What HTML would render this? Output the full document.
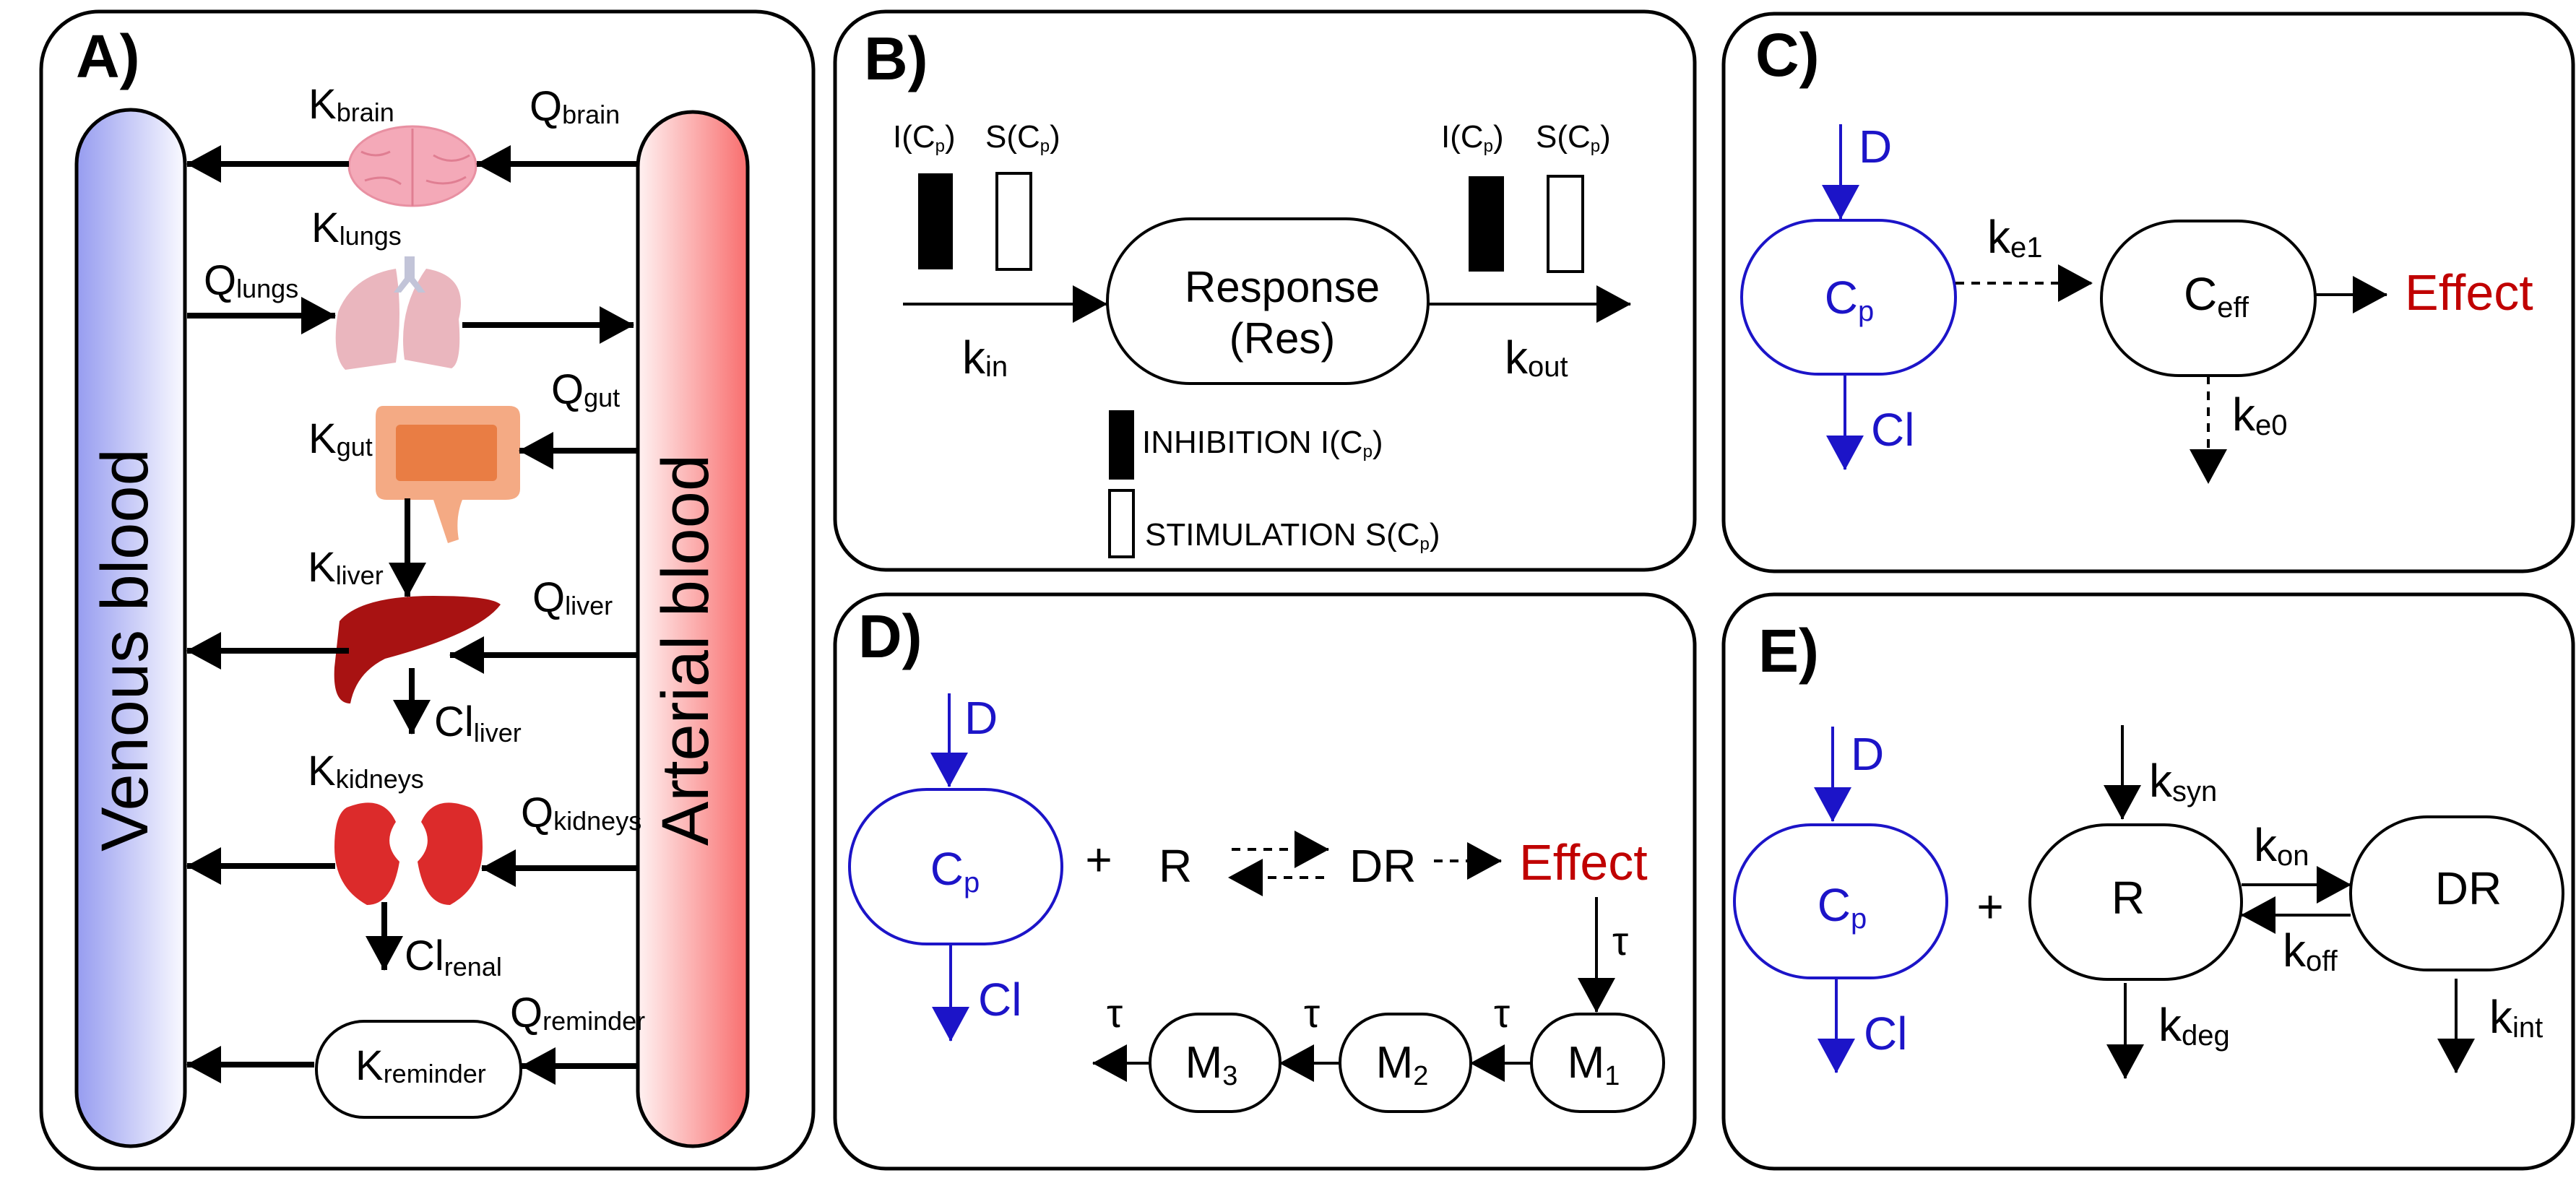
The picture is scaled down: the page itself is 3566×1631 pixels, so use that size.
<!DOCTYPE html>
<html><head><meta charset="utf-8"><style>html,body{margin:0;padding:0;background:#fff}svg{display:block}text{font-family:"Liberation Sans",Arial,sans-serif}</style></head>
<body>
<svg width="3566" height="1631" viewBox="0 0 3566 1631" xmlns="http://www.w3.org/2000/svg">
<defs>
<marker id="ah" viewBox="0 0 48 52" markerWidth="48" markerHeight="52" refX="47" refY="26" orient="auto" markerUnits="userSpaceOnUse"><path d="M0,0L48,26L0,52z" fill="#000"/></marker>
<marker id="ahb" viewBox="0 0 48 52" markerWidth="48" markerHeight="52" refX="47" refY="26" orient="auto" markerUnits="userSpaceOnUse"><path d="M0,0L48,26L0,52z" fill="#1c14c8"/></marker>
<linearGradient id="gv" x1="0" x2="1"><stop offset="0" stop-color="#969cf0"/><stop offset="1" stop-color="#fafaff"/></linearGradient>
<linearGradient id="ga" x1="0" x2="1"><stop offset="0" stop-color="#fff2f2"/><stop offset="1" stop-color="#f86e6e"/></linearGradient>
</defs>
<g fill="none" stroke="#000" stroke-width="5">
<rect x="57" y="16" width="1069" height="1602" rx="80"/>
<rect x="1156" y="16" width="1190" height="773" rx="70"/>
<rect x="1156" y="823" width="1190" height="795" rx="70"/>
<rect x="2386" y="19" width="1176" height="772" rx="70"/>
<rect x="2386" y="823" width="1176" height="795" rx="70"/>
</g>
<!-- Panel A -->
<text x="105" y="107" font-size="84" font-weight="bold">A)</text>
<rect x="106" y="152" width="150" height="1435" rx="75" fill="url(#gv)" stroke="#000" stroke-width="5"/>
<rect x="883" y="155" width="152" height="1432" rx="76" fill="url(#ga)" stroke="#000" stroke-width="5"/>
<text transform="translate(204,900) rotate(-90)" font-size="92" text-anchor="middle">Venous blood</text>
<text transform="translate(980,900) rotate(-90)" font-size="92" text-anchor="middle">Arterial blood</text>
<!-- organs -->
<ellipse cx="571" cy="230" rx="88" ry="55" fill="#f4a9b8" stroke="#e890a2" stroke-width="3"/>
<path d="M571 178V285M500 210q20 10 40 0M600 215q25 15 50 0M505 250q30-10 50 5M590 250q30 10 55-5" stroke="#e07e92" stroke-width="3" fill="none"/>
<path d="M548 372q-60 10-80 60q-10 60 10 80l70-10q10-70 0-130z" fill="#eab6be"/>
<path d="M590 372q60 10 45 70q5 60-10 68l-65-12q-10-70 30-126z" fill="#eab6be"/>
<path d="M560 355h14v30l15 20h-10l-12-15-12 15h-10l15-20z" fill="#c2c4d8"/>
<path d="M530 562q-10 0-10 15v100q0 15 15 15h65q10 30 20 60l15-5q-5-30 5-55h60q20 0 20-15v-100q0-15-15-15z" fill="#f4aa84"/>
<rect x="548" y="588" width="140" height="78" rx="6" fill="#e97d44"/>
<path d="M470 860q30-35 130-35q80 0 93 12q-30 40-160 75q-40 20-48 62q-25 0-22-50z" fill="#a81212"/>
<path d="M480 1118q50-20 68 20q-20 30 5 55q-10 60-45 60q-45-25-45-80q0-45 17-55z" fill="#dc2b2b"/>
<path d="M651 1118q-50-20-68 20q20 30-5 55q10 60 45 60q45-25 45-80q0-45-17-55z" fill="#dc2b2b"/>
<rect x="438" y="1414" width="283" height="133" rx="66" fill="#fff" stroke="#000" stroke-width="4"/>
<g stroke="#000" stroke-width="8" marker-end="url(#ah)">
<line x1="483" y1="227" x2="259" y2="227"/>
<line x1="883" y1="227" x2="660" y2="227"/>
<line x1="259" y1="437" x2="464" y2="437"/>
<line x1="640" y1="450" x2="877" y2="450"/>
<line x1="883" y1="624" x2="719" y2="624"/>
<line x1="564" y1="690" x2="564" y2="826"/>
<line x1="483" y1="901" x2="259" y2="901"/>
<line x1="883" y1="907" x2="623" y2="907"/>
<line x1="570" y1="925" x2="570" y2="1016"/>
<line x1="464" y1="1199" x2="259" y2="1199"/>
<line x1="883" y1="1202" x2="667" y2="1202"/>
<line x1="532" y1="1249" x2="532" y2="1343"/>
<line x1="435" y1="1474" x2="259" y2="1474"/>
<line x1="883" y1="1476" x2="722" y2="1476"/>
</g>
<g font-size="58">
<text x="427" y="164">K<tspan font-size="36" dy="4">brain</tspan></text>
<text x="733" y="167">Q<tspan font-size="36" dy="4">brain</tspan></text>
<text x="431" y="335">K<tspan font-size="36" dy="4">lungs</tspan></text>
<text x="282" y="408">Q<tspan font-size="36" dy="4">lungs</tspan></text>
<text x="763" y="559">Q<tspan font-size="36" dy="4">gut</tspan></text>
<text x="427" y="627">K<tspan font-size="36" dy="4">gut</tspan></text>
<text x="426" y="805">K<tspan font-size="36" dy="4">liver</tspan></text>
<text x="737" y="847">Q<tspan font-size="36" dy="4">liver</tspan></text>
<text x="601" y="1019">Cl<tspan font-size="36" dy="8">liver</tspan></text>
<text x="426" y="1087">K<tspan font-size="36" dy="4">kidneys</tspan></text>
<text x="721" y="1145">Q<tspan font-size="36" dy="4">kidneys</tspan></text>
<text x="560" y="1343">Cl<tspan font-size="36" dy="8">renal</tspan></text>
<text x="706" y="1422">Q<tspan font-size="36" dy="4">reminder</tspan></text>
<text x="492" y="1495">K<tspan font-size="36" dy="4">reminder</tspan></text>
</g>
<!-- Panel B -->
<text x="1196" y="110" font-size="84" font-weight="bold">B)</text>
<g font-size="44">
<text x="1236" y="204">I(C<tspan font-size="24" dy="6">p</tspan><tspan dy="-6">)</tspan></text>
<text x="1364" y="204">S(C<tspan font-size="24" dy="6">p</tspan><tspan dy="-6">)</tspan></text>
<text x="1995" y="204">I(C<tspan font-size="24" dy="6">p</tspan><tspan dy="-6">)</tspan></text>
<text x="2126" y="204">S(C<tspan font-size="24" dy="6">p</tspan><tspan dy="-6">)</tspan></text>
<text x="1581" y="627">INHIBITION I(C<tspan font-size="24" dy="6">p</tspan><tspan dy="-6">)</tspan></text>
<text x="1585" y="755">STIMULATION S(C<tspan font-size="24" dy="6">p</tspan><tspan dy="-6">)</tspan></text>
</g>
<rect x="1271" y="240" width="48" height="133" fill="#000"/>
<rect x="1380" y="240" width="47" height="133" fill="#fff" stroke="#000" stroke-width="4"/>
<rect x="2033" y="244" width="49" height="132" fill="#000"/>
<rect x="2143" y="244" width="48" height="132" fill="#fff" stroke="#000" stroke-width="4"/>
<rect x="1535" y="568" width="35" height="96" fill="#000"/>
<rect x="1536" y="679" width="33" height="92" fill="#fff" stroke="#000" stroke-width="4"/>
<rect x="1533" y="303" width="444" height="228" rx="114" fill="#fff" stroke="#000" stroke-width="4"/>
<text x="1775" y="418" font-size="60" text-anchor="middle">Response</text>
<text x="1775" y="489" font-size="60" text-anchor="middle">(Res)</text>
<g stroke="#000" stroke-width="4" marker-end="url(#ah)">
<line x1="1250" y1="421" x2="1532" y2="421"/>
<line x1="1977" y1="421" x2="2257" y2="421"/>
</g>
<text x="1332" y="517" font-size="64">k<tspan font-size="40" dy="4">in</tspan></text>
<text x="2083" y="517" font-size="64">k<tspan font-size="40" dy="4">out</tspan></text>
<!-- Panel D -->
<text x="1188" y="910" font-size="84" font-weight="bold">D)</text>
<rect x="1176" y="1093" width="294" height="214" rx="107" fill="#fff" stroke="#1c14c8" stroke-width="4"/>
<g stroke="#1c14c8" stroke-width="4" marker-end="url(#ahb)">
<line x1="1314" y1="960" x2="1314" y2="1089"/>
<line x1="1316" y1="1307" x2="1316" y2="1441"/>
</g>
<g fill="#1c14c8" font-size="64">
<text x="1335" y="1016">D</text>
<text x="1322" y="1225" text-anchor="middle">C<tspan font-size="40" dy="10">p</tspan></text>
<text x="1354" y="1406">Cl</text>
</g>
<g font-size="64">
<text x="1521" y="1212" text-anchor="middle">+</text>
<text x="1604" y="1221">R</text>
<text x="1868" y="1221">DR</text>
<text x="2103" y="1218" fill="#c00000" font-size="70">Effect</text>
</g>
<g stroke="#000" stroke-width="4" stroke-dasharray="12,10" marker-end="url(#ah)">
<line x1="1705" y1="1176" x2="1839" y2="1176"/>
<line x1="1833" y1="1215" x2="1701" y2="1215"/>
<line x1="1985" y1="1192" x2="2078" y2="1192"/>
</g>
<g fill="#fff" stroke="#000" stroke-width="4">
<rect x="2120" y="1404" width="183" height="135" rx="67"/>
<rect x="1855" y="1404" width="181" height="135" rx="67"/>
<rect x="1592" y="1404" width="180" height="135" rx="67"/>
</g>
<g font-size="62" text-anchor="middle">
<text x="2206" y="1492">M<tspan font-size="38" dy="10">1</tspan></text>
<text x="1941" y="1492">M<tspan font-size="38" dy="10">2</tspan></text>
<text x="1677" y="1492">M<tspan font-size="38" dy="10">3</tspan></text>
</g>
<g stroke="#000" stroke-width="4" marker-end="url(#ah)">
<line x1="2210" y1="1242" x2="2210" y2="1401"/>
<line x1="2120" y1="1472" x2="2036" y2="1472"/>
<line x1="1855" y1="1472" x2="1772" y2="1472"/>
<line x1="1592" y1="1472" x2="1513" y2="1472"/>
</g>
<g font-size="56" font-family="'Liberation Serif',serif">
<text x="2232" y="1322">τ</text>
<text x="2068" y="1422">τ</text>
<text x="1805" y="1422">τ</text>
<text x="1532" y="1422">τ</text>
</g>
<!-- Panel C -->
<text x="2430" y="105" font-size="84" font-weight="bold">C)</text>
<rect x="2411" y="305" width="296" height="213" rx="106" fill="#fff" stroke="#1c14c8" stroke-width="4"/>
<g stroke="#1c14c8" stroke-width="4" marker-end="url(#ahb)">
<line x1="2548" y1="172" x2="2548" y2="303"/>
<line x1="2554" y1="518" x2="2554" y2="650"/>
</g>
<g fill="#1c14c8" font-size="64">
<text x="2573" y="225">D</text>
<text x="2560" y="434" text-anchor="middle">C<tspan font-size="40" dy="10">p</tspan></text>
<text x="2590" y="617">Cl</text>
</g>
<rect x="2909" y="306" width="296" height="214" rx="107" fill="#fff" stroke="#000" stroke-width="4"/>
<text x="3068" y="429" font-size="64" text-anchor="middle">C<tspan font-size="40" dy="10">eff</tspan></text>
<g stroke="#000" stroke-width="4" marker-end="url(#ah)">
<line x1="2707" y1="392" x2="2896" y2="392" stroke-dasharray="12,10"/>
<line x1="3205" y1="408" x2="3304" y2="408"/>
<line x1="3057" y1="520" x2="3057" y2="669" stroke-dasharray="12,10"/>
</g>
<text x="2751" y="350" font-size="64">k<tspan font-size="40" dy="6">e1</tspan></text>
<text x="3090" y="596" font-size="64">k<tspan font-size="40" dy="6">e0</tspan></text>
<text x="3329" y="429" font-size="70" fill="#c00000">Effect</text>
<!-- Panel E -->
<text x="2434" y="930" font-size="84" font-weight="bold">E)</text>
<rect x="2401" y="1142" width="294" height="212" rx="106" fill="#fff" stroke="#1c14c8" stroke-width="4"/>
<g stroke="#1c14c8" stroke-width="4" marker-end="url(#ahb)">
<line x1="2537" y1="1006" x2="2537" y2="1137"/>
<line x1="2542" y1="1354" x2="2542" y2="1485"/>
</g>
<g fill="#1c14c8" font-size="64">
<text x="2562" y="1066">D</text>
<text x="2550" y="1275" text-anchor="middle">C<tspan font-size="40" dy="10">p</tspan></text>
<text x="2580" y="1453">Cl</text>
</g>
<text x="2755" y="1277" font-size="64" text-anchor="middle">+</text>
<rect x="2810" y="1142" width="293" height="214" rx="107" fill="#fff" stroke="#000" stroke-width="4"/>
<rect x="3254" y="1131" width="294" height="212" rx="106" fill="#fff" stroke="#000" stroke-width="4"/>
<text x="2946" y="1265" font-size="64" text-anchor="middle">R</text>
<text x="3417" y="1252" font-size="64" text-anchor="middle">DR</text>
<g stroke="#000" stroke-width="4" marker-end="url(#ah)">
<line x1="2938" y1="1004" x2="2938" y2="1134"/>
<line x1="3103" y1="1225" x2="3254" y2="1225"/>
<line x1="3254" y1="1267" x2="3103" y2="1267"/>
<line x1="2942" y1="1361" x2="2942" y2="1493"/>
<line x1="3400" y1="1355" x2="3400" y2="1485"/>
</g>
<g font-size="64">
<text x="2975" y="1103">k<tspan font-size="40" dy="6">syn</tspan></text>
<text x="3120" y="1192">k<tspan font-size="40" dy="6">on</tspan></text>
<text x="3160" y="1338">k<tspan font-size="40" dy="6">off</tspan></text>
<text x="2988" y="1441">k<tspan font-size="40" dy="6">deg</tspan></text>
<text x="3446" y="1430">k<tspan font-size="40" dy="6">int</tspan></text>
</g>
</svg>
</body></html>
